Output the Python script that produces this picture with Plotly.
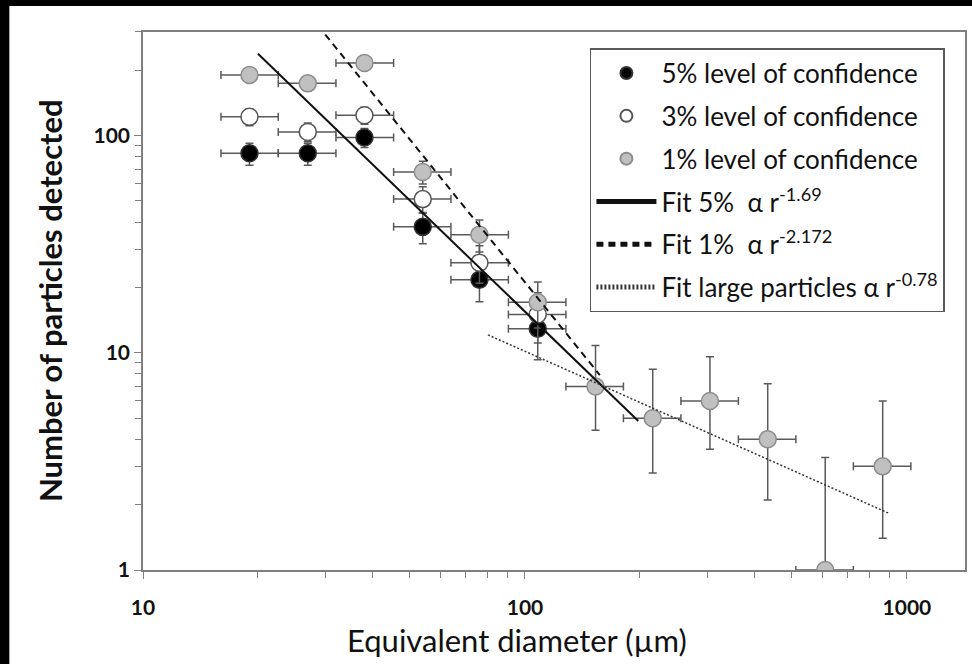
import plotly.graph_objects as go

# ---- data ----
diam = [19, 27, 38, 54, 76, 108, 153, 216, 305, 432, 611, 864]
bin_lo = [16.0, 22.6, 32.0, 45.3, 64.0, 90.5, 128, 181, 256, 362, 512, 724]
bin_hi = [22.6, 32.0, 45.3, 64.0, 90.5, 128, 181, 256, 362, 512, 724, 1024]

n5 = [83, 83, 98, 38, 21.7, 12.9]
n5_up = [9.1, 9.1, 9.9, 6.2, 4.7, 3.6]
n5_dn = [10.0, 10.0, 9.9, 6.2, 4.5, 3.6]

n3 = [122, 104, 124, 51, 26, 15]
n3_up = [11.0, 10.2, 11.1, 7.1, 5.1, 3.9]
n3_dn = [11.0, 10.2, 11.1, 7.1, 5.1, 3.9]

n1 = [190, 174, 216, 68, 35, 17.1, 7, 5, 6, 4, 1, 3]
n1_up = [13.8, 13.2, 14.7, 8.2, 5.9, 4.1, 3.8, 3.4, 3.6, 3.2, 2.3, 3.0]
n1_dn = [13.8, 13.2, 14.7, 8.2, 5.9, 4.1, 2.6, 2.2, 2.4, 1.9, 0.83, 1.6]

fit5_x = [20, 198]
fit5_y = [238, 4.85]
fit1_x = [30, 157]
fit1_y = [292, 7.9]
fitL_x = [80, 900]
fitL_y = [12.1, 1.82]

x_ticks = [10, 100, 1000]
y_ticks = [1, 10, 100]

FONT = "Lato"
ERR = "#5a5a5a"

def xerr(n):
    xs = diam[:n]
    return ([bin_hi[i] - xs[i] for i in range(n)], [xs[i] - bin_lo[i] for i in range(n)])

fig = go.Figure()

def add_points(y, up, dn, name, fill, edge, grp):
    n = len(y)
    ep, em = xerr(n)
    fig.add_trace(go.Scatter(
        x=diam[:n], y=y, mode="markers", name=name, legendgroup=grp,
        marker=dict(size=17, color=fill, line=dict(color=edge, width=1.5)),
        error_y=dict(type="data", symmetric=False, array=up, arrayminus=dn,
                     color=ERR, thickness=1.5, width=4),
        error_x=dict(type="data", symmetric=False, array=ep, arrayminus=em,
                     color=ERR, thickness=1.5, width=4),
    ))

add_points(n5, n5_up, n5_dn, "5% level of confidence", "#000000", "#333333", "a")
add_points(n3, n3_up, n3_dn, "3% level of confidence", "#ffffff", "#555555", "b")
add_points(n1, n1_up, n1_dn, "1% level of confidence", "#c0c0c0", "#8c8c8c", "c")

fig.add_trace(go.Scatter(x=fit5_x, y=fit5_y, mode="lines", legendgroup="d",
                         name="Fit 5%  \u03b1 r<sup>-1.69</sup>",
                         line=dict(color="#111111", width=2)))
fig.add_trace(go.Scatter(x=fit1_x, y=fit1_y, mode="lines", legendgroup="e",
                         name="Fit 1%  \u03b1 r<sup>-2.172</sup>",
                         line=dict(color="#111111", width=2, dash="7px,5px")))
fig.add_trace(go.Scatter(x=fitL_x, y=fitL_y, mode="lines", legendgroup="f",
                         name="Fit large particles \u03b1 r<sup>-0.78</sup>",
                         line=dict(color="#333333", width=1.5, dash="2px,2px")))

axis_line = "#7f7f7f"
fig.update_xaxes(
    type="log", range=[1, 3.152], showgrid=False, zeroline=False,
    showline=True, linecolor=axis_line, linewidth=1.5, mirror=True,
    ticks="outside", ticklen=7, tickcolor=axis_line, tickwidth=1.2,
    tickvals=x_ticks, ticktext=[str(v) for v in x_ticks],
    tickfont=dict(family=FONT, size=21, color="#111111", weight="bold"),
    ticklabelstandoff=11,
    minor=dict(ticks="outside", ticklen=6, tickcolor=axis_line, tickwidth=1.2,
               dtick="D1", showgrid=False),
)
fig.update_yaxes(
    type="log", range=[0, 2.477], showgrid=False, zeroline=False,
    showline=True, linecolor=axis_line, linewidth=1.5, mirror=True,
    ticks="outside", ticklen=7, tickcolor=axis_line, tickwidth=1.2,
    tickvals=y_ticks, ticktext=[str(v) for v in y_ticks],
    tickfont=dict(family=FONT, size=21, color="#111111", weight="bold"),
    minor=dict(ticks="outside", ticklen=6, tickcolor=axis_line, tickwidth=1.2,
               dtick="D1", showgrid=False),
)

fig.update_layout(
    width=972, height=664,
    margin=dict(l=143, r=5, t=32, b=94),
    paper_bgcolor="white", plot_bgcolor="white",
    font=dict(family=FONT, color="#111111"),
    showlegend=True,
    legend=dict(x=0.5437, y=0.97, xanchor="left", yanchor="top",
                bgcolor="white", bordercolor="#595959", borderwidth=1.5,
                font=dict(family=FONT, size=26, color="#111111"),
                tracegroupgap=6, itemsizing="constant", traceorder="grouped",
                itemwidth=60),
    annotations=[
        dict(text="Number of particles detected", xref="paper", yref="paper",
             x=-0.113, y=0.5, showarrow=False, textangle=-90,
             xanchor="center", yanchor="middle",
             font=dict(family=FONT, size=31, color="#111111", weight="bold")),
        dict(text="Equivalent diameter (\u00b5m)", xref="paper", yref="paper",
             x=0.455, y=-0.130, showarrow=False,
             xanchor="center", yanchor="middle",
             font=dict(family=FONT, size=31, color="#111111")),
    ],
    shapes=[
        dict(type="rect", xref="paper", yref="paper", x0=-0.2, x1=-0.1626,
             y0=-0.3, y1=1.2, fillcolor="black", line=dict(width=0), layer="above"),
        dict(type="rect", xref="paper", yref="paper", x0=-0.2, x1=1.1,
             y0=1.0483, y1=1.2, fillcolor="black", line=dict(width=0), layer="above"),
    ],
)

fig.write_html("out.html")
